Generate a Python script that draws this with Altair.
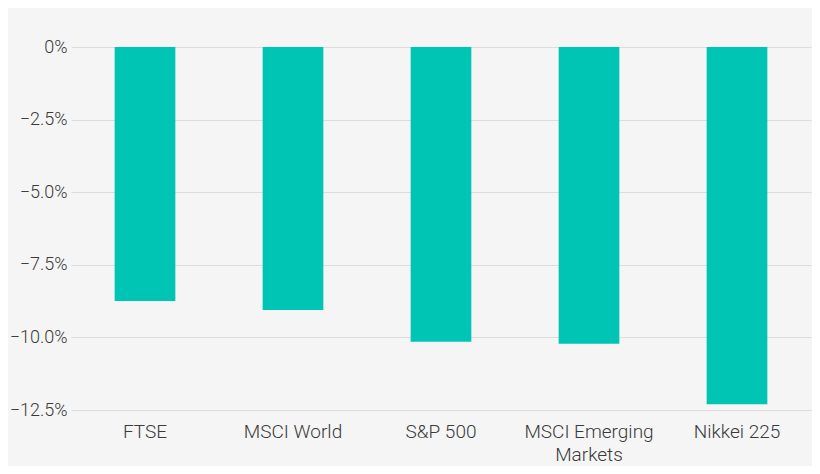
import altair as alt
import pandas as pd

indices = ["FTSE", "MSCI World", "S&P 500", "MSCI Emerging Markets", "Nikkei 225"]
returns = [-8.75, -9.06, -10.15, -10.22, -12.3]
y_ticks = [0, -2.5, -5.0, -7.5, -10.0, -12.5]

BAR_COLOR = "#00c4b4"
BG = "#f5f5f5"

df = pd.DataFrame({"index": indices, "change": returns})

label_expr = (
    "datum.label == 'MSCI Emerging Markets' ? ['MSCI Emerging', 'Markets'] : datum.label"
)

chart = (
    alt.Chart(df)
    .mark_bar(color=BAR_COLOR)
    .encode(
        x=alt.X(
            "index:N",
            sort=indices,
            title=None,
            scale=alt.Scale(paddingInner=0.59, paddingOuter=0.295),
            axis=alt.Axis(
                labelAngle=0,
                ticks=False,
                domain=False,
                labelPadding=12,
                labelExpr=label_expr,
                labelLineHeight=23,
                labelFontSize=19,
            ),
        ),
        y=alt.Y(
            "change:Q",
            title=None,
            scale=alt.Scale(domain=[-12.5, 0], nice=False),
            axis=alt.Axis(
                values=y_ticks,
                labelExpr="datum.value == 0 ? '0%' : format(datum.value, '.1f') + '%'",
                ticks=False,
                domain=False,
                labelPadding=4,
                labelFontSize=18,
                gridColor="#dcdcdc",
            ),
        ),
    )
    .properties(
        width=740,
        height=363,
        background=BG,
        autosize=alt.AutoSizeParams(type="none"),
        padding={"left": 63, "top": 39, "right": 1, "bottom": 56},
    )
    .configure_view(stroke=None)
    .configure_axis(
        labelFont="Roboto",
        labelFontWeight=300,
        labelColor="#3a3a3a",
    )
)

chart.save("out.html", embed_options={"renderer": "svg", "actions": False})
